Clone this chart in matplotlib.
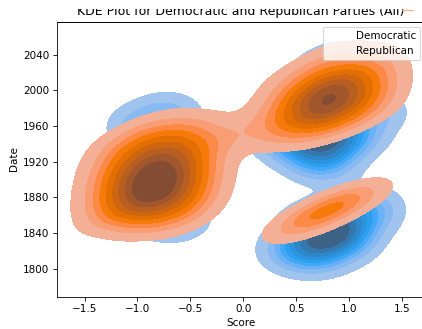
import matplotlib
matplotlib.use("Agg")
import matplotlib.pyplot as plt
from matplotlib.lines import Line2D
from matplotlib.patches import Rectangle
from matplotlib.ticker import MultipleLocator
import pandas as pd
import seaborn as sns

plt.rcParams.update({"font.size": 10, "axes.titlesize": 12,
                     "axes.labelsize": 10, "xtick.labelsize": 10,
                     "ytick.labelsize": 10, "legend.fontsize": 10,
                     "axes.spines.top": True, "axes.spines.right": True,
                     "savefig.bbox": None})

# hand-read sample positions (score, year, weight) per party
dem_score = [-0.80, -0.80, -0.80, -1.00, -0.60, -0.65, -0.95, -0.70, -1.00, -0.50,
             0.75, 0.50, 1.00, 0.75, 0.75, 0.55, 1.00, 0.75, 0.30, 1.25, 0.95,
             0.82, 0.60, 1.05, 0.70, 1.20, 0.45, 0.95, 0.70]
dem_date = [1905, 1875, 1935, 1900, 1900, 1855, 1960, 1975, 1860, 1940,
            1945, 1940, 1950, 1920, 1975, 1990, 1990, 2020, 1955, 1975, 2040,
            1842, 1828, 1857, 1815, 1870, 1818, 1830, 1852]
dem_weight = [2.5, 1.5, 1.5, 1, 1, 1, 1, 0.8, 0.6, 0.6,
              3, 1.5, 1.5, 1.5, 1.5, 1, 1, 0.8, 0.7, 0.7, 0.4,
              3, 1.5, 1.5, 1, 0.8, 0.7, 1, 0.8]

rep_score = [-1.15, -1.15, -1.15, -1.15, -1.15,
             -0.85, -0.85, -0.85, -0.85, -0.85, -0.85,
             -0.55, -0.55, -0.55, -0.55, -0.55, -0.55,
             -0.20, 0.05,
             0.45, 0.45, 0.45, 0.45,
             0.80, 0.80, 0.80, 0.80, 0.80,
             1.15, 1.15, 1.15, 1.15,
             0.55, 0.80, 1.05]
rep_date = [1865, 1885, 1905, 1925, 1945,
            1860, 1880, 1900, 1920, 1940, 1960,
            1855, 1875, 1895, 1915, 1935, 1955,
            1950, 1950,
            1955, 1975, 1995, 2015,
            1960, 1980, 2000, 2020, 2040,
            1975, 1995, 2015, 2035,
            1852, 1866, 1879]
rep_weight = [1.0, 1.3, 1.2, 0.9, 0.5,
              1.3, 2.3, 2.5, 2.0, 1.2, 0.5,
              0.7, 1.2, 1.4, 1.3, 1.0, 0.6,
              0.3, 0.25,
              0.7, 1.0, 0.8, 0.4,
              1.0, 2.5, 2.5, 1.0, 0.4,
              0.8, 1.1, 0.9, 0.4,
              0.9, 1.1, 0.8]

parties = ["Democratic", "Republican"]
colors = ["#1f77b4", "#ff7f0e"]
series = [(dem_score, dem_date, dem_weight, 0.45),
          (rep_score, rep_date, rep_weight, 0.52)]

DPI = 75
fig = plt.figure(figsize=(422 / DPI, 329 / DPI), dpi=DPI)
# axes edges put on pixel centres so the spines come out crisp
ax = fig.add_axes([56.5 / 422, 32.5 / 329, 369 / 422, 275 / 329])

for (score, date, weight, bw), color in zip(series, colors):
    df = pd.DataFrame({"Score": score, "Date": date, "w": weight})
    sns.kdeplot(data=df, x="Score", y="Date", weights="w", fill=True,
                color=color, bw_adjust=bw, ax=ax)

ax.set_xlim(-1.765, 1.72)
ax.set_ylim(1769, 2077)
ax.xaxis.set_major_locator(MultipleLocator(0.5))
ax.yaxis.set_major_locator(MultipleLocator(40))
for s in ax.spines.values():
    s.set_visible(True)
    s.set_color("black")
    s.set_linewidth(0.8)
    s.set_zorder(6)
ax.set_title("KDE Plot for Democratic and Republican Parties (All)")

blank = [Line2D([], [], linestyle="none") for _ in parties]
ax.legend(blank, parties, loc="upper right")

# the top strip of the picture is cut off, hiding the upper half of the title
fig.patches.append(Rectangle((0, 1 - 9 / 329), 1, 9 / 329, transform=fig.transFigure,
                             facecolor="white", edgecolor="none", zorder=10))
fig.lines.append(Line2D([402 / 422, 413 / 422], [1 - 9.5 / 329] * 2,
                        transform=fig.transFigure, color="#f4ad94", lw=1.2, zorder=11))
# top frame line of the axes
fig.lines.append(Line2D([56.5 / 422, 1], [307.5 / 329] * 2,
                        transform=fig.transFigure, color="black", lw=0.8, zorder=11))

fig.savefig("out.png", dpi=DPI)
